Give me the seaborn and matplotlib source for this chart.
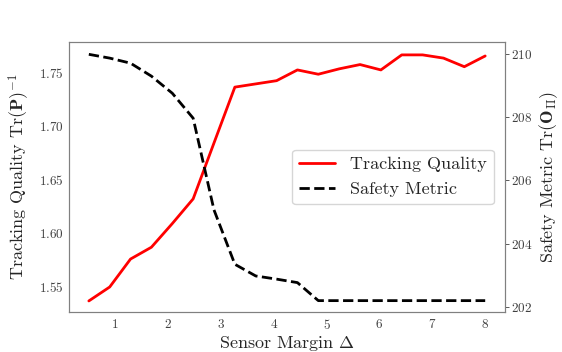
import numpy as np
import pandas as pd
import matplotlib
matplotlib.use("Agg")
import matplotlib.pyplot as plt
import seaborn as sns

# values
margin = [0.5, 0.895, 1.289, 1.684, 2.079, 2.474, 2.868, 3.263, 3.658, 4.053,
          4.447, 4.842, 5.237, 5.632, 6.026, 6.421, 6.816, 7.211, 7.605, 8.0]
tracking = [1.537, 1.550, 1.576, 1.587, 1.609, 1.632, 1.684, 1.736, 1.739, 1.742,
            1.752, 1.748, 1.753, 1.757, 1.752, 1.766, 1.766, 1.763, 1.755, 1.765]
safety = [209.99, 209.87, 209.71, 209.30, 208.76, 207.97, 205.07, 203.35, 202.98, 202.88,
          202.77, 202.2, 202.2, 202.2, 202.2, 202.2, 202.2, 202.2, 202.2, 202.2]

df = pd.DataFrame({"margin": margin, "tracking": tracking, "safety": safety})

sns.set_style("white")
plt.rcParams["font.family"] = ["cmr10", "DejaVu Serif"]
plt.rcParams["mathtext.fontset"] = "cm"
plt.rcParams["axes.formatter.use_mathtext"] = True
plt.rcParams["axes.edgecolor"] = "#808080"
plt.rcParams["xtick.color"] = "#404040"
plt.rcParams["ytick.color"] = "#404040"

fig = plt.figure(figsize=(5.62, 3.52), dpi=100)
ax = fig.add_axes([0.1228, 0.1136, 0.7758, 0.7671])
ax2 = ax.twinx()

sns.lineplot(data=df, x="margin", y="tracking", ax=ax, color="red", lw=2,
             label="Tracking Quality", legend=False)
sns.lineplot(data=df, x="margin", y="safety", ax=ax2, color="black", lw=2,
             linestyle="--", label="Safety Metric", legend=False)

ax.set_ylim(1.5267, 1.778)
ax2.set_ylim(201.84, 210.38)
ax.set_xlim(0.125, 8.375)
ax.set_xticks([1, 2, 3, 4, 5, 6, 7, 8])
ax.set_yticks([1.55, 1.60, 1.65, 1.70, 1.75])
ax2.set_yticks([202, 204, 206, 208, 210])
ax.tick_params(labelsize=9.5, length=0, pad=4)
ax2.tick_params(labelsize=9.5, length=3, width=0.6, pad=1, right=True)

ax.set_xlabel(r"Sensor Margin $\Delta$", fontsize=13, labelpad=2)
ax.set_ylabel(r"Tracking Quality $\mathrm{Tr}(\mathbf{P})^{-1}$", fontsize=13, labelpad=5)
ax2.set_ylabel(r"Safety Metric $\mathrm{Tr}(\mathbf{O}_{\mathbf{\Pi}})$", fontsize=13, labelpad=4)

h1, l1 = ax.get_legend_handles_labels()
h2, l2 = ax2.get_legend_handles_labels()
ax2.legend(h1 + h2, l1 + l2, loc="center right", fontsize=13, frameon=True,
           bbox_to_anchor=(0.995, 0.5))

fig.savefig("out.png", dpi=100)
